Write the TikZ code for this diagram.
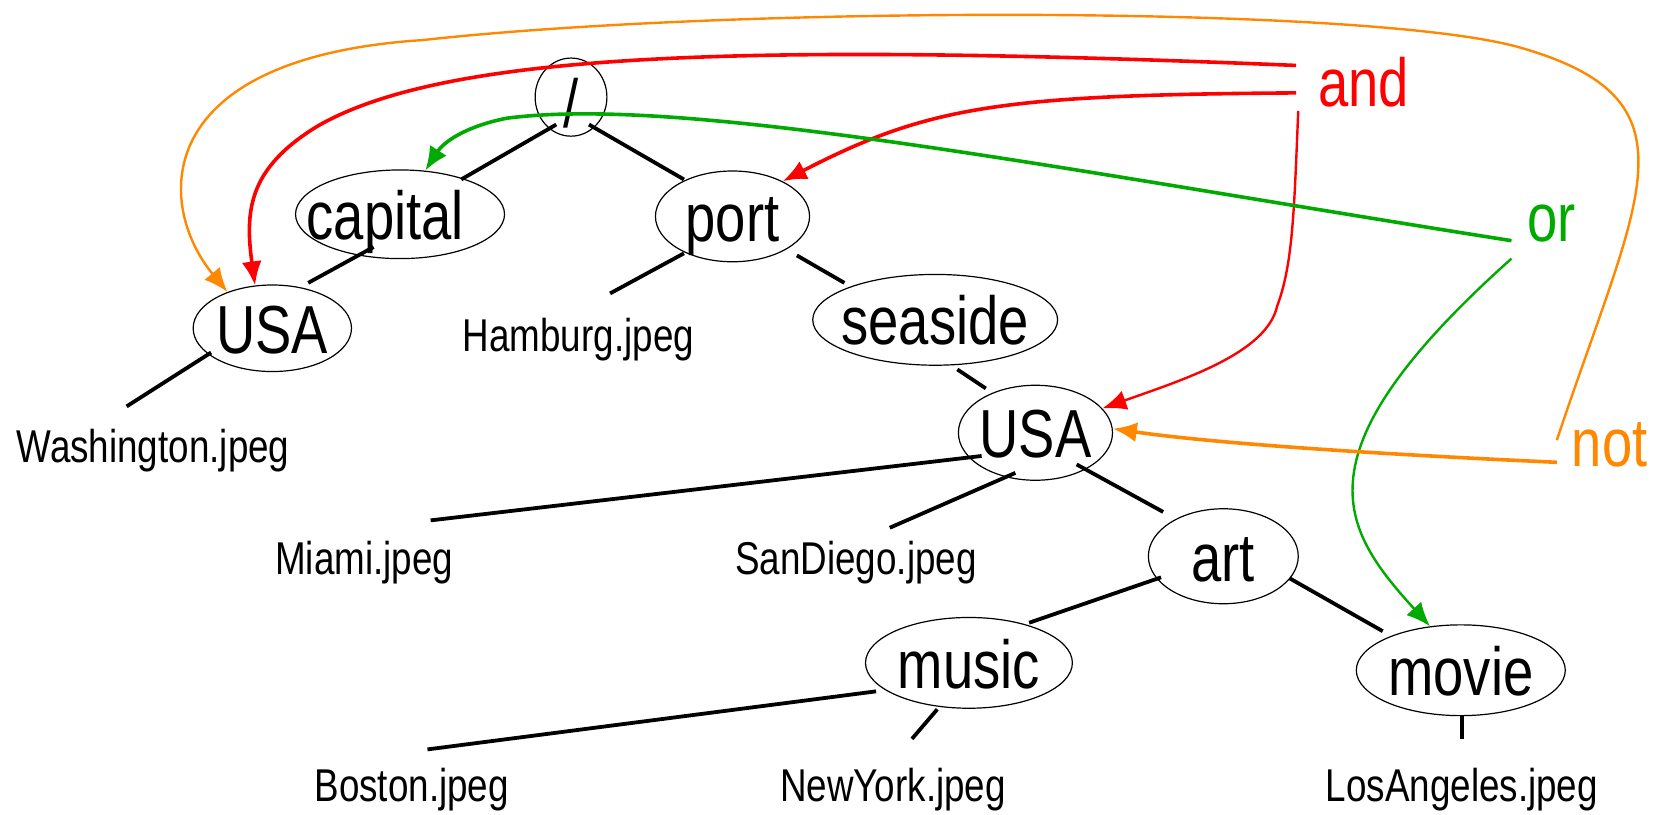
\documentclass[tikz,border=0pt]{standalone}
\usepackage{fontspec}
\setmainfont[FakeStretch=0.80]{Liberation Sans}
\usetikzlibrary{calc,shapes.geometric,arrows.meta}
\definecolor{cred}{RGB}{255,0,0}
\definecolor{cgreen}{RGB}{0,170,0}
\definecolor{corange}{RGB}{255,136,0}
\newcommand\biglbl[1]{\smash{\makebox[0pt]{\raisebox{-0.37em}{#1}}}}
\newcommand\biglblx[2]{\smash{\makebox[0pt]{\hspace*{#1}\raisebox{-0.37em}{#2}}}}
\newcommand\slashlbl[1]{\smash{\makebox[0pt]{\raisebox{-0.45em}{#1}}}}
\begin{document}
\begin{tikzpicture}[x=0.52777pt,y=-0.52777pt,
  ell/.style={draw, ellipse, inner sep=0pt, line width=0.6pt, font=\fontsize{34pt}{40pt}\selectfont},
  leaf/.style={inner sep=0pt, font=\fontsize{23pt}{27pt}\selectfont},
  op/.style={inner sep=0pt, font=\fontsize{34pt}{40pt}\selectfont},
  edge/.style={line width=1.9pt},
  arr/.style={line width=1.8pt, -{Latex[length=12pt,width=10pt]}},
  arrthin/.style={line width=1.2pt, -{Latex[length=12pt,width=10pt]}},
]
\useasboundingbox (0,0) rectangle (1568,772);

% tree nodes
\node[ell, minimum width={68*0.52777pt}, minimum height={74*0.52777pt}] (root) at (541,92) {\slashlbl{/}};
\node[ell, minimum width={198*0.52777pt}, minimum height={84*0.52777pt}] (capital) at (379,203) {\biglblx{-14.8pt}{capital}};
\node[ell, minimum width={146*0.52777pt}, minimum height={86*0.52777pt}] (port) at (694,205) {\biglbl{port}};
\node[ell, minimum width={150*0.52777pt}, minimum height={82*0.52777pt}] (usa1) at (258,311) {\biglbl{USA}};
\node[ell, minimum width={232*0.52777pt}, minimum height={86*0.52777pt}] (seaside) at (886,303) {\biglbl{seaside}};
\node[ell, minimum width={146*0.52777pt}, minimum height={90*0.52777pt}] (usa2) at (981,410) {\biglbl{USA}};
\node[ell, minimum width={142*0.52777pt}, minimum height={90*0.52777pt}] (art) at (1159,527) {\biglbl{art}};
\node[ell, minimum width={196*0.52777pt}, minimum height={86*0.52777pt}] (music) at (918,628) {\biglbl{music}};
\node[ell, minimum width={198*0.52777pt}, minimum height={86*0.52777pt}] (movie) at (1384,635) {\biglbl{movie}};

% leaves
\node[leaf] (hamburg) at (548,322) {Hamburg.jpeg};
\node[leaf] (washington) at (145,427) {Washington.jpeg};
\node[leaf] (miami) at (345,533) {Miami.jpeg};
\node[leaf] (sandiego) at (811,533) {SanDiego.jpeg};
\node[leaf] (boston) at (390,748) {Boston.jpeg};
\node[leaf] (newyork) at (846,748) {NewYork.jpeg};
\node[leaf] (losangeles) at (1385,748) {LosAngeles.jpeg};

% operators
\node[op, text=cred] (and) at (1292,78) {and};
\node[op, text=cgreen] (or) at (1470,212) {or};
\node[op, text=corange] (not) at (1525,421) {not};

% tree edges
\draw[edge] ($(root)+(-14,26)$) -- ($(capital)+(58,-33)$);
\draw[edge] ($(root)+(17,26)$) -- ($(port)+(-46,-35)$);
\draw[edge] ($(capital)+(-25,31)$) -- ($(usa1)+(34,-43)$);
\draw[edge] ($(usa1)+(-58,23)$) -- ($(washington)+(-25,-42)$);
\draw[edge] ($(port)+(-46,35)$) -- ($(hamburg)+(30,-44)$);
\draw[edge] ($(port)+(61,37)$) -- ($(seaside)+(-86,-35)$);
\draw[edge] ($(seaside)+(21,47)$) -- ($(usa2)+(-47,-42)$);
\draw[edge] ($(usa2)+(-51,22)$) -- ($(miami)+(63,-40)$);
\draw[edge] ($(usa2)+(-19,38)$) -- ($(sandiego)+(32,-33)$);
\draw[edge] ($(usa2)+(39,30)$) -- ($(art)+(-57,-42)$);
\draw[edge] ($(art)+(-59,20)$) -- ($(music)+(57,-38)$);
\draw[edge] ($(art)+(63,21)$) -- ($(movie)+(-74,-37)$);
\draw[edge] ($(music)+(-88,27)$) -- ($(boston)+(15,-38)$);
\draw[edge] ($(music)+(-30,44)$) -- ($(newyork)+(18,-48)$);
\draw[edge] ($(movie)+(1,43)$) -- ($(losangeles)+(0,-48)$);

% query arrows
\draw[arrthin, corange] ($(not)+(-50,-4)$) .. controls (1552,185) and (1615,95) .. (1440,45)
  .. controls (1300,5) and (700,5) .. (400,38)
  .. controls (140,55) and (148,195) .. (usa1.141);
\draw[arr, cred] ($(and)+(-64,-16)$) .. controls (700,40) and (420,50) .. (300,120)
  .. controls (235,160) and (232,200) .. (usa1.112);
\draw[arr, cred] ($(and)+(-64,10)$) .. controls (950,90) and (880,100) .. (port.35);
\draw[arrthin, cred] ($(and)+(-62,27)$) .. controls (1226,200) and (1225,250) .. (1210,290)
  .. controls (1200,335) and (1120,360) .. (usa2.20);
\draw[arr, cgreen] ($(or)+(-38,16)$) .. controls (1000,160) and (650,90) .. (480,112)
  .. controls (440,120) and (420,135) .. (capital.60);
\draw[arrthin, cgreen] ($(or)+(-38,33)$) .. controls (1225,430) and (1270,500) .. (movie.125);
\draw[arr, corange] ($(not)+(-50,17)$) .. controls (1300,430) and (1150,420) .. (usa2.3);
\end{tikzpicture}
\end{document}
